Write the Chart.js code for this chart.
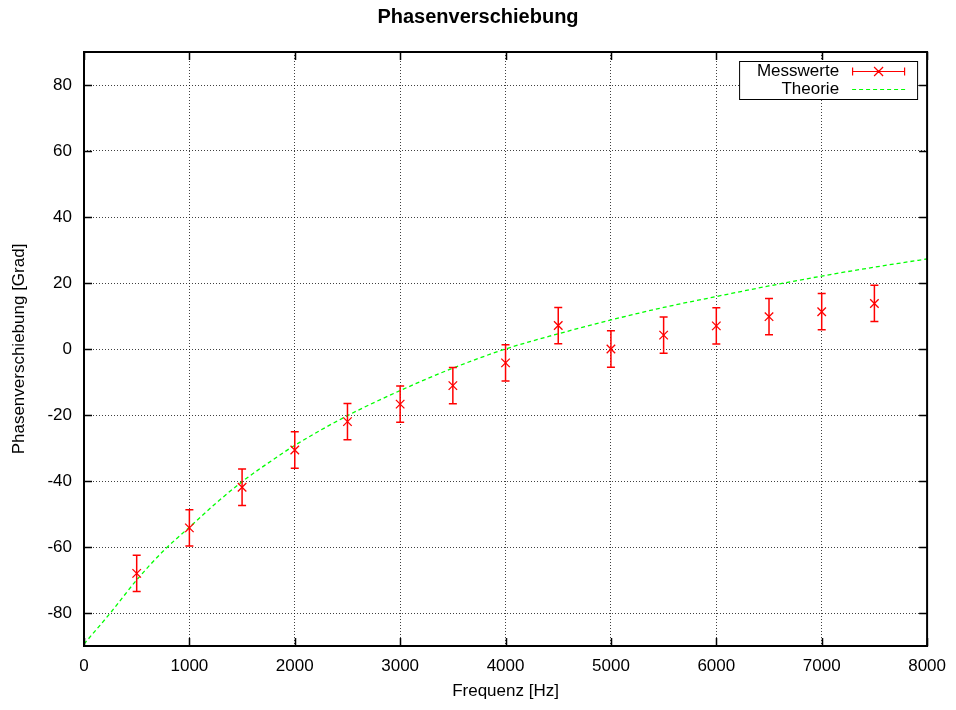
<!DOCTYPE html>
<html>
<head>
<meta charset="utf-8">
<title>Phasenverschiebung</title>
<script src="https://cdn.jsdelivr.net/npm/chart.js@4.4.1/dist/chart.umd.min.js"></script>
<style>
  html, body { margin: 0; padding: 0; background: #fff; }
</style>
</head>
<body>
<canvas id="grafico" width="956" height="710"></canvas>
<script>
// Messwerte (Frequenz in Hz, Phase in Grad, Fehler in Grad)
const freqMess = [500, 1000, 1500, 2000, 2500, 3000, 3500, 4000, 4500, 5000, 5500, 6000, 6500, 7000, 7500];
const phaseMess = [-68, -54.2, -41.9, -30.6, -22, -16.7, -11.1, -4.2, 7.1, 0, 4.2, 7, 9.8, 11.3, 13.8];
const phaseErr = [5.5, 5.5, 5.5, 5.5, 5.5, 5.5, 5.5, 5.5, 5.5, 5.5, 5.5, 5.5, 5.5, 5.5, 5.5];

// Theoriekurve
const freqTheo = [0, 250, 500, 750, 1000, 1250, 1500, 1750, 2000, 2500, 3000, 3500, 4000, 4500, 5000, 5500, 6000, 6500, 7000, 7500, 8000];
const phaseTheo = [-89.4, -80, -70, -61.3, -54, -46.8, -40.2, -34.5, -29.2, -20.2, -12.6, -5.8, 0, 4.6, 8.8, 12.6, 15.9, 19.1, 22.1, 24.8, 27.3];

const xTicks = [0, 1000, 2000, 3000, 4000, 5000, 6000, 7000, 8000];
const yTicks = [-80, -60, -40, -20, 0, 20, 40, 60, 80];

const ROT = "#ff0000";
const GRUEN = "#00ff00";
const SCHRIFT = "'Liberation Sans', Arial, sans-serif";

Chart.defaults.font.family = SCHRIFT;
Chart.defaults.font.size = 17;
Chart.defaults.color = "#000";

// Fehlerbalken, Rahmen, Ticks nach innen und Legende im Kasten
const gnuplotStil = {
    id: "gnuplotStil",
    afterDatasetsDraw(chart) {
        const ctx = chart.ctx;
        const xs = chart.scales.x, ys = chart.scales.y;
        ctx.save();
        ctx.strokeStyle = ROT;
        ctx.lineWidth = 1.5;
        freqMess.forEach((f, i) => {
            const px = xs.getPixelForValue(f);
            const yo = ys.getPixelForValue(phaseMess[i] + phaseErr[i]);
            const yu = ys.getPixelForValue(phaseMess[i] - phaseErr[i]);
            ctx.beginPath();
            ctx.moveTo(px, yo); ctx.lineTo(px, yu);
            ctx.moveTo(px - 4, yo); ctx.lineTo(px + 4, yo);
            ctx.moveTo(px - 4, yu); ctx.lineTo(px + 4, yu);
            ctx.stroke();
        });
        ctx.restore();
    },
    afterDraw(chart) {
        const ctx = chart.ctx;
        const a = chart.chartArea;
        const xs = chart.scales.x, ys = chart.scales.y;
        ctx.save();

        // Ticks nach innen (auch gespiegelt)
        ctx.strokeStyle = "#000";
        ctx.lineWidth = 1.5;
        ctx.beginPath();
        xTicks.forEach(v => {
            const px = Math.round(xs.getPixelForValue(v)) + 0.5;
            ctx.moveTo(px, a.bottom); ctx.lineTo(px, a.bottom - 8);
            ctx.moveTo(px, a.top); ctx.lineTo(px, a.top + 8);
        });
        yTicks.forEach(v => {
            const py = Math.round(ys.getPixelForValue(v)) + 0.5;
            ctx.moveTo(a.left, py); ctx.lineTo(a.left + 8, py);
            ctx.moveTo(a.right, py); ctx.lineTo(a.right - 8, py);
        });
        ctx.stroke();

        // Rahmen
        ctx.lineWidth = 2;
        ctx.strokeRect(a.left, a.top, a.right - a.left, a.bottom - a.top);

        // Legende
        const rechts = a.right - 10, oben = a.top + 9;
        const breite = 178, hoehe = 38;
        ctx.fillStyle = "#fff";
        ctx.fillRect(rechts - breite, oben, breite, hoehe);
        ctx.lineWidth = 1;
        ctx.strokeStyle = "#000";
        ctx.strokeRect(rechts - breite + 0.5, oben + 0.5, breite, hoehe);

        ctx.font = "17px " + SCHRIFT;
        ctx.fillStyle = "#000";
        ctx.textAlign = "right";
        ctx.textBaseline = "middle";
        const y1 = oben + 10.5, y2 = oben + 28.5;
        ctx.fillText("Messwerte", rechts - 78, y1);
        ctx.fillText("Theorie", rechts - 78, y2);

        const s0 = rechts - 65, s1 = rechts - 12;
        ctx.strokeStyle = ROT;
        ctx.lineWidth = 1.2;
        ctx.beginPath();
        ctx.moveTo(s0, y1); ctx.lineTo(s1, y1);
        ctx.moveTo(s0 + 0.5, y1 - 4); ctx.lineTo(s0 + 0.5, y1 + 4);
        ctx.moveTo(s1 - 0.5, y1 - 4); ctx.lineTo(s1 - 0.5, y1 + 4);
        const m = (s0 + s1) / 2;
        ctx.moveTo(m - 4.5, y1 - 4.5); ctx.lineTo(m + 4.5, y1 + 4.5);
        ctx.moveTo(m - 4.5, y1 + 4.5); ctx.lineTo(m + 4.5, y1 - 4.5);
        ctx.stroke();

        ctx.strokeStyle = GRUEN;
        ctx.setLineDash([4, 3]);
        ctx.beginPath();
        ctx.moveTo(s0, y2); ctx.lineTo(s1, y2);
        ctx.stroke();
        ctx.restore();
    }
};

const ctx = document.getElementById("grafico").getContext("2d");

new Chart(ctx, {
    type: "scatter",
    data: {
        datasets: [
            {
                label: "Messwerte",
                data: freqMess.map((f, i) => ({ x: f, y: phaseMess[i] })),
                borderColor: ROT,
                backgroundColor: ROT,
                pointStyle: "crossRot",
                pointRadius: 6,
                borderWidth: 1.3,
                showLine: false
            },
            {
                label: "Theorie",
                type: "line",
                data: freqTheo.map((f, i) => ({ x: f, y: phaseTheo[i] })),
                borderColor: GRUEN,
                borderWidth: 1.3,
                borderDash: [4, 3],
                pointRadius: 0,
                cubicInterpolationMode: "monotone",
                fill: false
            }
        ]
    },
    options: {
        responsive: false,
        animation: false,
        devicePixelRatio: 1,
        layout: { padding: 0 },
        plugins: {
            legend: { display: false },
            tooltip: { enabled: false },
            title: {
                display: true,
                text: "Phasenverschiebung",
                font: { size: 20, weight: "bold" },
                padding: { top: 5, bottom: 23 }
            }
        },
        scales: {
            x: {
                type: "linear",
                min: 0,
                max: 8000,
                afterBuildTicks: s => { s.ticks = xTicks.map(v => ({ value: v })); },
                afterFit: s => { s.height = 64; },
                ticks: { padding: 10, maxRotation: 0, callback: v => String(v) },
                grid: {
                    color: "rgba(0,0,0,0.75)",
                    lineWidth: 1,
                    drawTicks: false
                },
                border: { display: false, dash: [1, 2] },
                title: { display: true, text: "Frequenz [Hz]", padding: { top: 0, bottom: 8 } }
            },
            y: {
                type: "linear",
                min: -90,
                max: 90,
                afterBuildTicks: s => { s.ticks = yTicks.map(v => ({ value: v })); },
                afterFit: s => { s.width = 84; },
                ticks: { padding: 12, callback: v => String(v) },
                grid: {
                    color: "rgba(0,0,0,0.75)",
                    lineWidth: 1,
                    drawTicks: false
                },
                border: { display: false, dash: [1, 2] },
                title: { display: true, text: "Phasenverschiebung [Grad]", padding: { top: 9, bottom: 0 } }
            },
            // leerer Rand rechts, damit der Titel mittig ueber der Seite steht
            rand: {
                type: "linear",
                position: "right",
                display: true,
                afterFit: s => { s.width = 28; },
                ticks: { display: false },
                grid: { display: false },
                border: { display: false }
            }
        }
    },
    plugins: [gnuplotStil]
});
</script>
</body>
</html>
